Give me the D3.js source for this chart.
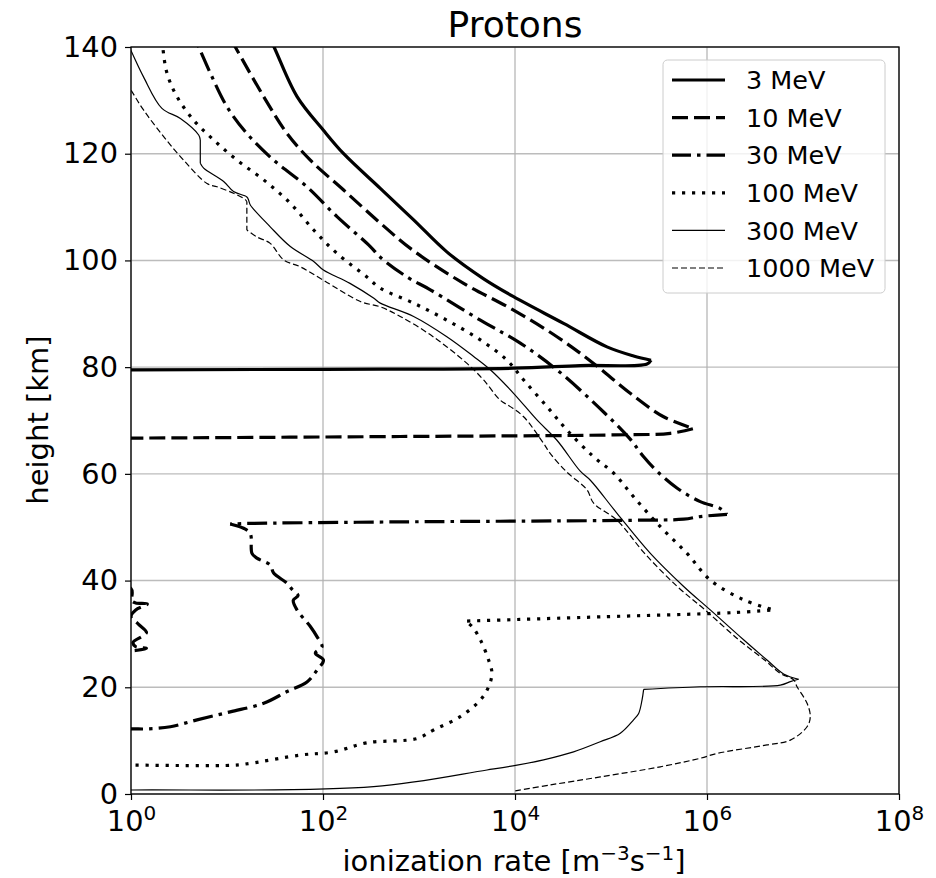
<!DOCTYPE html>
<html><head><meta charset="utf-8">
<script src="https://cdn.jsdelivr.net/npm/d3@7"></script>
<style>
body{margin:0;background:#fff}
text{font-family:"DejaVu Sans",sans-serif;fill:#000}
</style>
</head><body>
<svg id="chart" width="936" height="878"></svg>
<script>
// ---- data (ionization rate in m^-3 s^-1, height in km) ----
const xTickValues = [1, 1e2, 1e4, 1e6, 1e8];
const xTickExponents = ["0", "2", "4", "6", "8"];
const yTickValues = [0, 20, 40, 60, 80, 100, 120, 140];
const seriesLabels = ["3 MeV", "10 MeV", "30 MeV", "100 MeV", "300 MeV", "1000 MeV"];

const rate3 = [22.9, 30.9, 53.7, 101, 164, 395, 879, 1950, 4677, 9660, 32060, 90780, 171800, 261200, 237100, 47860, 9660, 100, 1, 0.1];
const height3 = [145, 140, 130.7, 124.4, 120, 113.5, 107.6, 101.6, 96.6, 93.2, 88.2, 83.8, 82.1, 81.3, 80.6, 80.3, 79.8, 79.6, 79.5, 79.4];

const rate10 = [8.51, 12.2, 24.1, 42.2, 73.8, 164, 395, 879, 2917, 9660, 27350, 65920, 158500, 353200, 724400, 415000, 107200, 638, 1, 0.1, 0.1, 1, 1.02, 1.12, 1.48, 1.12, 1, 1.2, 1.45, 1.32, 1.05, 1.12, 1.45, 1.12, 0.1];
const height10 = [145, 140, 130.7, 123.8, 118.8, 113.2, 107.0, 101.8, 95.7, 90.7, 85.7, 80.7, 75.1, 70.7, 68.5, 67.6, 67.3, 67.0, 66.7, 66.6, 39.5, 38.5, 36.2, 35.8, 35.6, 34.5, 33.3, 31.8, 30.3, 29.6, 28.4, 27.6, 27.3, 26.9, 26.5];

const rate30 = [3.80, 5.07, 6.70, 10, 16.1, 30.6, 68.1, 140, 311, 395, 750, 1312, 4355, 11350, 27350, 74130, 158500, 218800, 301300, 489800, 851100, 1377000, 1614000, 851100, 571500, 171800, 638, 16.1, 10.8, 14.9, 17.5, 18.2, 20.5, 28.2, 30.6, 42.2, 47.9, 55, 49, 53.6, 73.8, 86.5, 97.7, 83.2, 101, 86.5, 68.1, 42.2, 24.1, 10.8, 4.88, 2.57, 1.47, 1, 0.1];
const height30 = [145, 140, 135.1, 128.8, 123.8, 118.8, 113.8, 108.2, 102.6, 100.6, 96.9, 94.5, 88.8, 84.5, 79.5, 72.5, 66.5, 63.2, 60.5, 57.3, 54.8, 53.5, 52.4, 52.0, 51.5, 51.3, 51.0, 50.7, 50.6, 49.8, 48.8, 45.1, 44.2, 42.9, 41.4, 39.5, 38.3, 37.2, 36.3, 34.5, 31.4, 29.5, 27.6, 26.4, 25.1, 23.2, 21.0, 19.2, 17.0, 15.4, 13.9, 12.6, 12.2, 12.2, 12.1];

const rate100 = [2.0, 2.14, 2.37, 3.01, 4.49, 7.24, 12.7, 24.1, 45.7, 80, 140, 287, 395, 879, 1950, 4355, 8260, 12300, 21530, 34830, 65920, 107200, 171800, 326600, 619400, 1081000, 2404000, 4943000, 1892000, 77270, 10500, 3034, 3565, 4355, 5309, 5754, 5309, 4355, 2692, 1419, 955, 287, 129, 58.1, 17.5, 11.7, 1.07, 0.1];
const height100 = [145, 140, 135.1, 130.7, 126.3, 122.6, 118.8, 115.1, 110.7, 105.7, 101.3, 96.9, 94.8, 92.0, 88.8, 85.1, 81.3, 77.6, 72.6, 68.2, 63.2, 60.1, 55.7, 50.1, 45.1, 40.1, 36.4, 34.5, 34.0, 33.2, 32.7, 32.4, 31.4, 28.9, 25.1, 22.6, 20.1, 17.6, 14.5, 12.0, 10.4, 9.6, 7.9, 7.3, 5.75, 5.4, 5.4, 5.4];

const rate300 = [0.794, 1, 1.35, 2.10, 3.27, 5.07, 5.27, 5.27, 5.71, 9.23, 11.7, 16.1, 16.8, 17.5, 28.2, 45.7, 80, 101, 191, 339, 395, 879, 1950, 3707, 5534, 9660, 16940, 27350, 47860, 60950, 115600, 257000, 571500, 1081000, 2404000, 4217000, 6281000, 8995000, 7379000, 5808000, 851100, 218800, 210400, 194100, 171800, 125000, 77270, 40740, 19860, 10500, 5105, 336.5, 1, 0.1];
const height300 = [143, 139.3, 134.4, 128.5, 126.6, 123.5, 122.6, 118.2, 117.3, 114.8, 112.9, 111.9, 111.3, 110.4, 106.3, 102.6, 99.8, 98.2, 95.7, 92.9, 92.0, 89.5, 85.7, 82.0, 79.5, 75.1, 70.1, 66.3, 60.5, 58.8, 52.6, 45.1, 38.9, 34.5, 28.9, 25.1, 22.5, 21.5, 21.05, 20.4, 20.1, 19.6, 17.6, 15.1, 13.9, 11.4, 9.8, 7.9, 6.4, 5.4, 4.5, 1.37, 0.75, 0.7];

const rate1000 = [0.794, 1, 1.35, 2.19, 3.53, 6.19, 7.87, 11.7, 15.5, 16.1, 16.1, 20.5, 28.2, 38.9, 58.1, 101, 245, 395, 638, 1380, 3162, 4710, 7031, 8933, 12300, 19860, 23330, 34830, 56230, 65920, 115600, 223900, 489800, 955000, 2138000, 3981000, 5808000, 8000000, 8670000, 11020000, 11910000, 11020000, 7379000, 4217000, 1271000, 851100, 326600, 77270, 23330, 10070];
const height1000 = [134.7, 131.9, 128.2, 123.2, 118.8, 114.4, 113.8, 112.6, 111.4, 111.0, 105.7, 104.4, 103.2, 100.1, 98.8, 96.3, 92.3, 91.3, 89.5, 85.8, 80.7, 77.6, 73.8, 72.6, 70.7, 65.7, 63.8, 60.3, 57.0, 54.5, 51.3, 45.1, 38.9, 34.5, 28.9, 25.1, 22.6, 21.4, 20.1, 17.0, 14.5, 12.6, 10.1, 9.2, 7.6, 6.7, 5.1, 3.2, 1.7, 0.6];

// point indices where the profile has a sharp corner
const sharpCorners = [[13], [14], [22, 28], [27, 31], [6, 7, 37, 41], [9, 10]];

// ---- styles ----
const lineStyles = [
  {w: 3.2, dash: null,          legendDash: null},
  {w: 3.2, dash: "16,6",        legendDash: "16,6"},
  {w: 3.2, dash: "20,6,3.5,6",  legendDash: "19,6,3.5,6"},
  {w: 3.2, dash: "3.2,6.8",     legendDash: "3.2,6.8"},
  {w: 1.2, dash: null,          legendDash: null},
  {w: 1.2, dash: "6,3",         legendDash: "6,3"}
];

const rates = [rate3, rate10, rate30, rate100, rate300, rate1000];
const heights = [height3, height10, height30, height100, height300, height1000];
const series = rates.map((r, i) => r.map((v, j) => [v, heights[i][j]]));

const L = 131, R = 899, T = 47, B = 794;
const svg = d3.select("#chart");
const x = d3.scaleLog().domain([1, 1e8]).range([L, R]);
const y = d3.scaleLinear().domain([0, 140]).range([B, T]);

svg.append("defs").append("clipPath").attr("id", "clip")
  .append("rect").attr("x", L).attr("y", T).attr("width", R - L).attr("height", B - T);

// grid
const grid = svg.append("g");
grid.selectAll("line.gx").data(xTickValues).join("line")
  .attr("x1", d => x(d)).attr("x2", d => x(d)).attr("y1", T).attr("y2", B)
  .attr("stroke", "#b0b0b0").attr("stroke-width", 1.4).attr("stroke-opacity", 0.85);
grid.selectAll("line.gy").data(yTickValues).join("line")
  .attr("y1", d => y(d)).attr("y2", d => y(d)).attr("x1", L).attr("x2", R)
  .attr("stroke", "#b0b0b0").attr("stroke-width", 1.4).attr("stroke-opacity", 0.85);

// curves (smooth, split at sharp corners, dash pattern kept continuous)
const line = d3.line().x(d => x(d[0])).y(d => y(d[1])).curve(d3.curveCatmullRom.alpha(0.5));
const curves = svg.append("g").attr("clip-path", "url(#clip)");
series.forEach((s, i) => {
  const cuts = [0, ...sharpCorners[i], s.length - 1];
  let offset = 0;
  for (let k = 0; k < cuts.length - 1; k++) {
    const piece = s.slice(cuts[k], cuts[k + 1] + 1);
    const p = curves.append("path").datum(piece).attr("d", line)
      .attr("fill", "none").attr("stroke", "#000")
      .attr("stroke-width", lineStyles[i].w)
      .attr("stroke-dasharray", lineStyles[i].dash)
      .attr("stroke-dashoffset", offset)
      .attr("stroke-linejoin", "round");
    offset += p.node().getTotalLength();
  }
});

// frame
svg.append("rect").attr("x", L).attr("y", T).attr("width", R - L).attr("height", B - T)
  .attr("fill", "none").attr("stroke", "#000").attr("stroke-width", 1.3);

// axes
const xAxis = d3.axisBottom(x).tickValues(xTickValues).tickFormat("").tickSize(6).tickSizeOuter(0);
const gx = svg.append("g").attr("transform", `translate(0,${B})`).call(xAxis);
gx.select(".domain").remove();
gx.selectAll(".tick line").attr("stroke", "#000").attr("stroke-width", 1.2);
gx.selectAll(".tick text").remove();
gx.selectAll(".tick").append("text")
  .attr("y", 37).attr("text-anchor", "middle").attr("font-size", 28.8)
  .each(function(d, i) {
    const t = d3.select(this);
    t.append("tspan").text("10");
    t.append("tspan").attr("font-size", 20).attr("dy", -11).text(xTickExponents[i]);
  });

const yAxis = d3.axisLeft(y).tickValues(yTickValues).tickSize(6).tickSizeOuter(0).tickPadding(7);
const gy = svg.append("g").attr("transform", `translate(${L},0)`).call(yAxis);
gy.select(".domain").remove();
gy.selectAll(".tick line").attr("stroke", "#000").attr("stroke-width", 1.2);
gy.selectAll(".tick text").attr("font-size", 28.8).attr("font-family", "DejaVu Sans").attr("fill", "#000");

// title & labels
svg.append("text").attr("x", 515).attr("y", 37).attr("text-anchor", "middle")
  .attr("font-size", 36).text("Protons");

const xl = svg.append("text").attr("x", 514).attr("y", 871).attr("text-anchor", "middle").attr("font-size", 29);
xl.append("tspan").text("ionization rate [m");
xl.append("tspan").attr("font-size", 20).attr("dy", -11).text("\u22123");
xl.append("tspan").attr("dy", 11).text("s");
xl.append("tspan").attr("font-size", 20).attr("dy", -11).text("\u22121");
xl.append("tspan").attr("dy", 11).text("]");

svg.append("text").attr("transform", "translate(48,420) rotate(-90)")
  .attr("text-anchor", "middle").attr("font-size", 29).text("height [km]");

// legend
const lg = svg.append("g");
lg.append("rect").attr("x", 663).attr("y", 60).attr("width", 222).attr("height", 233).attr("rx", 4.5)
  .attr("fill", "#fff").attr("fill-opacity", 0.8).attr("stroke", "#cccccc").attr("stroke-width", 1);
seriesLabels.forEach((lab, i) => {
  const yy = 80 + i * 37.6;
  lg.append("line").attr("x1", 672).attr("x2", 725).attr("y1", yy).attr("y2", yy)
    .attr("stroke", "#000").attr("stroke-width", lineStyles[i].w)
    .attr("stroke-dasharray", lineStyles[i].legendDash);
  lg.append("text").attr("x", 746).attr("y", yy).attr("dy", "0.36em")
    .attr("font-size", 25.5).text(lab);
});
</script>
</body></html>
